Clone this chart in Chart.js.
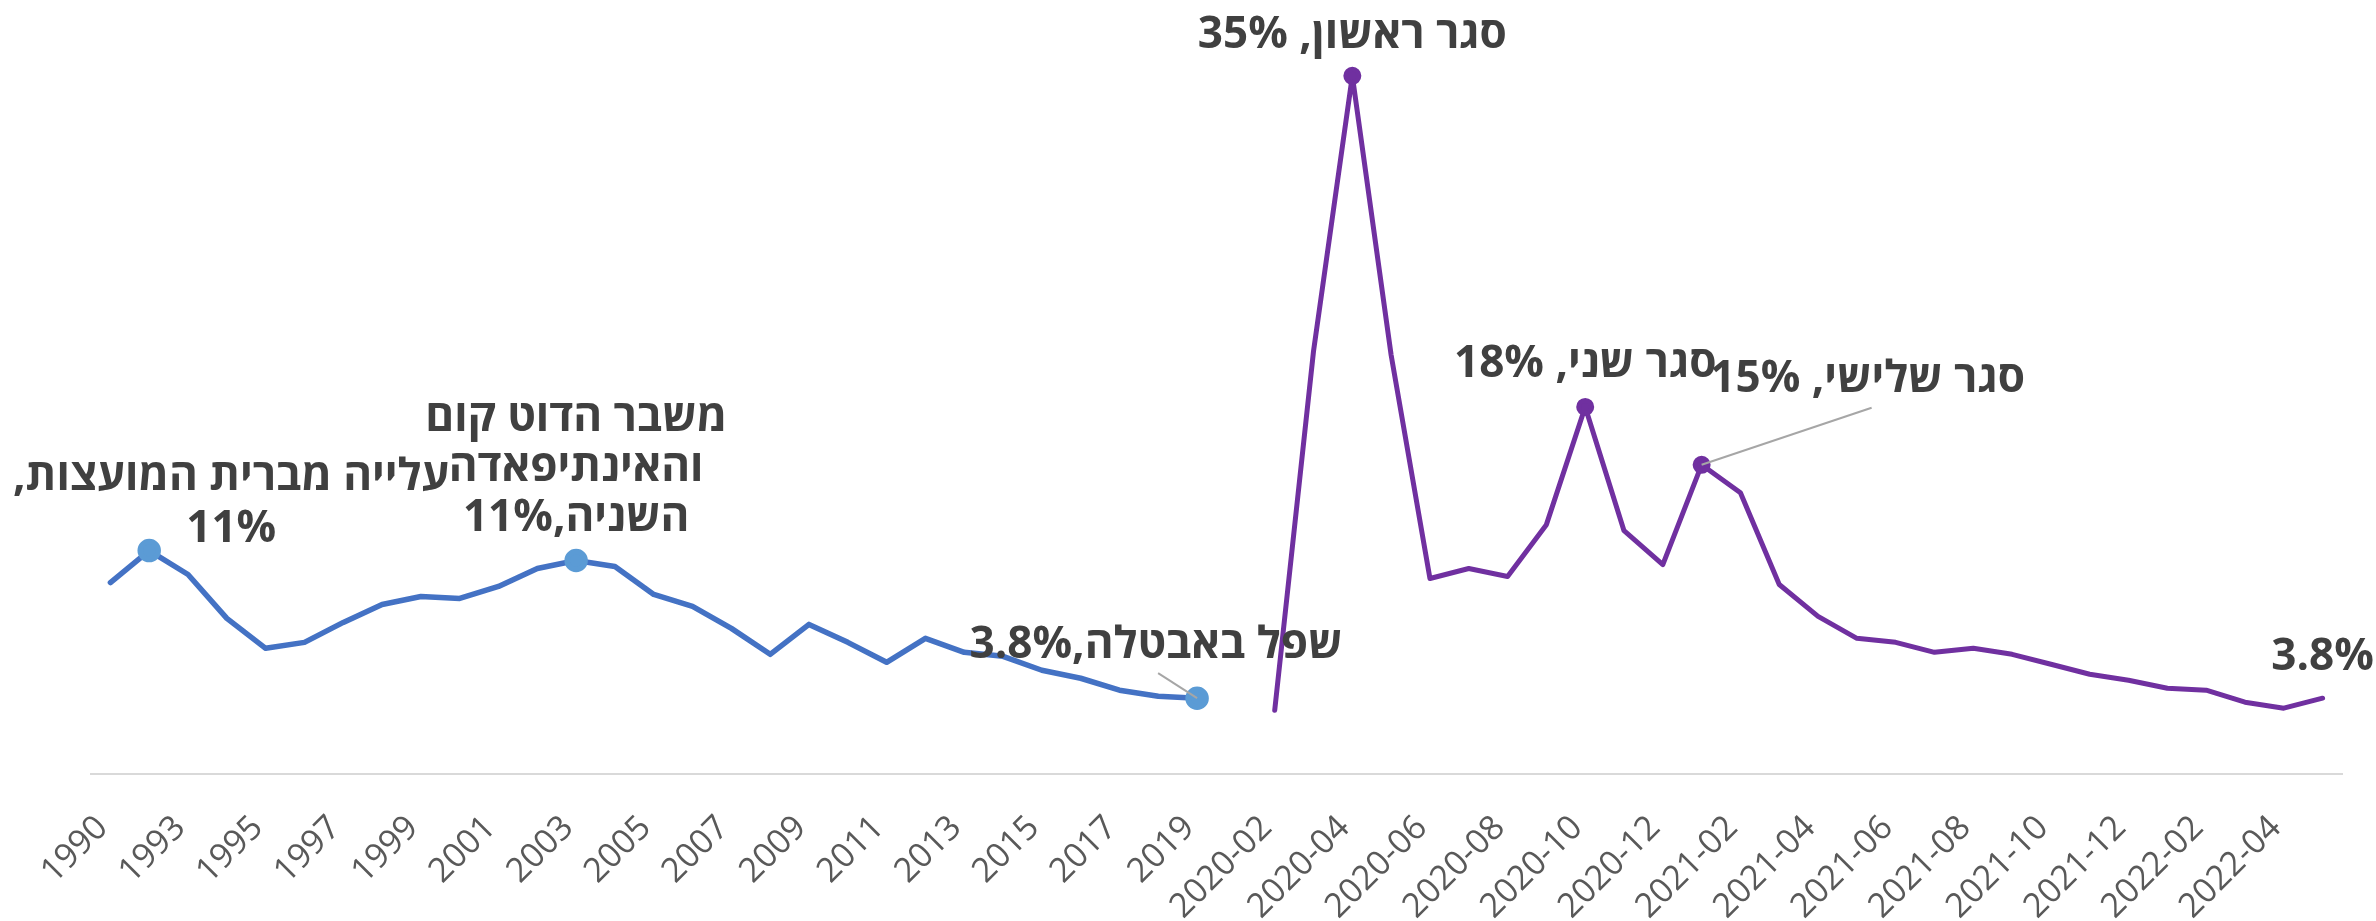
<!DOCTYPE html>
<html>
<head>
<meta charset="utf-8">
<script src="https://cdn.jsdelivr.net/npm/chart.js@4.4.1/dist/chart.umd.min.js"></script>
<style>
  html, body { margin: 0; padding: 0; background: #fff; overflow: hidden; }
</style>
</head>
<body>
<canvas id="chart" width="2376" height="921"></canvas>
<script>
// yearly series (1991 is not in the source), then monthly 2020-02 .. 2022-05
const years = ["1990", "1992", "1993", "1994", "1995", "1996", "1997", "1998", "1999", "2000",
  "2001", "2002", "2003", "2004", "2005", "2006", "2007", "2008", "2009", "2010",
  "2011", "2012", "2013", "2014", "2015", "2016", "2017", "2018", "2019"];
const months = ["2020-02", "2020-03", "2020-04", "2020-05", "2020-06", "2020-07", "2020-08",
  "2020-09", "2020-10", "2020-11", "2020-12", "2021-01", "2021-02", "2021-03", "2021-04",
  "2021-05", "2021-06", "2021-07", "2021-08", "2021-09", "2021-10", "2021-11", "2021-12",
  "2022-01", "2022-02", "2022-03", "2022-04", "2022-05"];

const yearlyRate = [9.6, 11.2, 10.0, 7.8, 6.3, 6.6, 7.6, 8.5, 8.9, 8.8,
  9.4, 10.3, 10.7, 10.4, 9.0, 8.4, 7.3, 6.0, 7.5, 6.6,
  5.6, 6.8, 6.1, 5.9, 5.2, 4.8, 4.2, 3.9, 3.8];
const monthlyRate = [3.2, 21.2, 35.0, 21.0, 9.8, 10.3, 9.9, 12.5, 18.4, 12.2, 10.5, 15.5, 14.1,
  9.5, 7.9, 6.8, 6.6, 6.1, 6.3, 6.0, 5.5, 5.0, 4.7, 4.3, 4.2, 3.6, 3.3, 3.8];

// one empty slot between the two series
const categories = [...years, "", ...months];

const yearlyMarked = ["1992", "2003", "2019"];
const monthlyMarked = ["2020-04", "2020-10", "2021-01"];

const notes = [
  { at: "1992", lines: ["עלייה מברית המועצות,", "11%"] },
  { at: "2003", lines: ["משבר הדוט קום", "והאינתיפאדה", "השניה,11%"] },
  { at: "2019", lines: ["שפל באבטלה,3.8%"] },
  { at: "2020-04", lines: ["סגר ראשון, 35%"] },
  { at: "2020-10", lines: ["סגר שני, 18%"] },
  { at: "2021-01", lines: ["סגר שלישי, 15%"] },
  { at: "2022-05", lines: ["3.8%"] },
];

const FONT = '"Open Sans", "DejaVu Sans", sans-serif';

const gap = categories.indexOf("");
const blueData = categories.map((c, i) => (i < gap ? yearlyRate[i] : null));
const purpleData = categories.map((c, i) => (i > gap ? monthlyRate[i - gap - 1] : null));

// label offsets from their point
const notePos = {
  "1992": { dx: 82, dy: -61, lh: 52 },
  "2003": { dx: 0, dy: -130, lh: 50 },
  "2019": { dx: -41, dy: -40, lead: [-39, -25] },
  "2020-04": { dx: 0, dy: -28 },
  "2020-10": { dx: 0, dy: -30 },
  "2021-01": { dx: 166, dy: -73, lead: [170, -57] },
  "2022-05": { dx: 0, dy: -28 },
};

const notesPlugin = {
  id: "notes",
  afterDatasetsDraw(chart) {
    const { ctx } = chart;
    const x = chart.scales.x, y = chart.scales.y;
    ctx.save();
    for (let n of notes) {
      let i = categories.indexOf(n.at);
      let v = blueData[i] != null ? blueData[i] : purpleData[i];
      let px = x.getPixelForValue(i), py = y.getPixelForValue(v);
      let p = notePos[n.at];
      if (p.lead) {
        ctx.strokeStyle = "#A6A6A6";
        ctx.lineWidth = 2;
        ctx.beginPath();
        ctx.moveTo(px, py);
        ctx.lineTo(px + p.lead[0], py + p.lead[1]);
        ctx.stroke();
      }
      ctx.fillStyle = "#404040";
      ctx.font = "bold 44px " + FONT;
      ctx.textAlign = "center";
      ctx.textBaseline = "alphabetic";
      ctx.direction = "rtl";
      n.lines.forEach((t, k) => {
        ctx.fillText(t, px + p.dx, py + p.dy + k * (p.lh || 50));
      });
    }
    ctx.restore();
  },
};

new Chart(document.getElementById("chart").getContext("2d"), {
  type: "line",
  data: {
    labels: categories,
    datasets: [
      {
        data: blueData,
        borderColor: "#4472C4",
        borderWidth: 5.5,
        borderJoinStyle: "round",
        borderCapStyle: "round",
        pointRadius: (c) => (yearlyMarked.includes(categories[c.dataIndex]) ? 9 : 0),
        pointBackgroundColor: "#5B9BD5",
        pointBorderColor: "#5B9BD5",
        tension: 0,
      },
      {
        data: purpleData,
        borderColor: "#7030A0",
        borderWidth: 5,
        borderJoinStyle: "round",
        borderCapStyle: "round",
        pointRadius: (c) => (monthlyMarked.includes(categories[c.dataIndex]) ? 6.5 : 0),
        pointBackgroundColor: "#7030A0",
        pointBorderColor: "#7030A0",
        tension: 0,
      },
    ],
  },
  options: {
    responsive: false,
    animation: false,
    devicePixelRatio: 1,
    layout: { padding: { left: 91, right: 34, top: 16, bottom: 0 } },
    scales: {
      x: {
        offset: true,
        grid: { display: false, drawTicks: false },
        border: { display: true, color: "#D9D9D9", width: 2 },
        afterFit: (scale) => {
          // fixed axis band; keep the plot width from the layout padding alone
          scale.height = 147;
          scale.paddingLeft = 0;
          scale.paddingRight = 0;
        },
        ticks: {
          autoSkip: false,
          minRotation: 45,
          maxRotation: 45,
          padding: 34,
          labelOffset: -8,
          color: "#595959",
          font: { size: 34, family: FONT },
          callback: function (v, i) { return i % 2 === 0 ? this.getLabelForValue(v) : ""; },
        },
      },
      y: { display: false, min: 0, max: 38 },
    },
    plugins: {
      legend: { display: false },
      tooltip: { enabled: false },
    },
  },
  plugins: [notesPlugin],
});
</script>
</body>
</html>
